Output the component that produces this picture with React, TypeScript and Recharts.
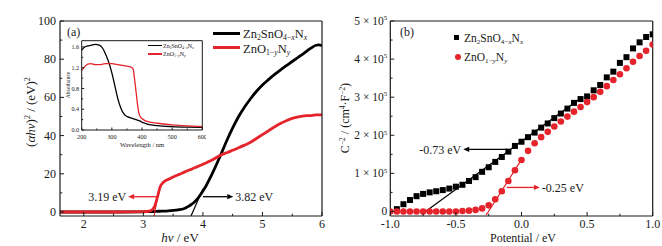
import React from "react";
import {
  ComposedChart,
  LineChart,
  Line,
  Scatter,
  XAxis,
  YAxis,
  ReferenceLine,
} from "recharts";

const INK = "#1a1a1a";
const RED = "#e5232a";
const FONT = "'Liberation Serif', 'Times New Roman', serif";
const AXIS = { stroke: INK, strokeWidth: 1.2 };

// (a) Tauc plot, (αhν)² vs hν
const hvA = [1.6, 2.0, 2.5, 3.0, 3.1, 3.15, 3.19, 3.22, 3.25, 3.28, 3.32, 3.36, 3.45, 3.5, 3.6, 3.7, 3.75, 3.8, 3.85, 3.9, 3.95, 4.0, 4.05, 4.1, 4.2, 4.3, 4.4, 4.5, 4.6, 4.7, 4.8, 4.9, 5.0, 5.1, 5.2, 5.3, 5.4, 5.5, 5.6, 5.7, 5.8, 5.9, 5.95, 6.0];
const tauZts = [0, 0, 0, 0.1, 0.2, 0.2, 0.3, 0.3, 0.4, 0.4, 0.5, 0.5, 0.7, 0.8, 1.2, 2.0, 2.8, 3.8, 5.0, 6.6, 8.6, 11, 13.5, 16.5, 23, 30, 37.3, 44, 50, 55, 59.3, 63.2, 66.5, 69.3, 71.9, 74.3, 76.6, 78.8, 81, 83.2, 85.5, 87.3, 87.5, 87];
const tauZno = [0, 0, 0, 0.2, 0.5, 1.2, 3, 6, 9.5, 13, 15, 16.2, 17.5, 18.3, 19.7, 21, 21.7, 22.3, 23, 23.6, 24.3, 25, 25.7, 26.4, 28, 29.8, 31, 32.3, 33.6, 35, 36.5, 38.5, 40.5, 42.5, 44.5, 46.3, 47.8, 49, 49.8, 50.3, 50.5, 50.8, 50.8, 51];
const hvTicks = [2, 2.5, 3, 3.5, 4, 4.5, 5, 5.5, 6];
const hvMajor = [2, 3, 4, 5, 6];
const tauTicks = [0, 10, 20, 30, 40, 50, 60, 70, 80, 90, 100];
const tauMajor = [0, 20, 40, 60, 80, 100];

// inset: absorbance spectra
const wavelength = [200, 210, 220, 230, 245, 260, 270, 280, 290, 300, 310, 320, 330, 340, 350, 360, 370, 375, 380, 385, 390, 395, 400, 410, 420, 450, 500, 550, 600];
const absZts = [1.54, 1.6, 1.62, 1.63, 1.65, 1.63, 1.57, 1.45, 1.3, 1.1, 0.85, 0.6, 0.42, 0.31, 0.26, 0.24, 0.22, 0.21, 0.2, 0.19, 0.18, 0.17, 0.15, 0.13, 0.11, 0.085, 0.065, 0.055, 0.05];
const absZno = [1.15, 1.22, 1.27, 1.28, 1.26, 1.26, 1.27, 1.28, 1.28, 1.28, 1.27, 1.26, 1.25, 1.24, 1.23, 1.22, 1.18, 1.0, 0.75, 0.5, 0.32, 0.25, 0.22, 0.18, 0.16, 0.13, 0.1, 0.08, 0.065];
const wlTicks = [200, 250, 300, 350, 400, 450, 500, 550, 600];
const wlMajor = [200, 300, 400, 500, 600];
const absTicks = [0, 0.2, 0.4, 0.6, 0.8, 1.0, 1.2, 1.4, 1.6];
const absMajor = [0, 0.4, 0.8, 1.2, 1.6];

// (b) Mott–Schottky, C⁻² in units of 10⁵
const potZts = [-0.95, -0.9, -0.85, -0.8, -0.75, -0.7, -0.65, -0.6, -0.55, -0.5, -0.45, -0.4, -0.35, -0.3, -0.25, -0.2, -0.15, -0.1, -0.05, 0, 0.05, 0.1, 0.15, 0.2, 0.25, 0.3, 0.35, 0.4, 0.45, 0.5, 0.55, 0.6, 0.65, 0.7, 0.75, 0.8, 0.85, 0.9, 0.95, 1.0];
const msZts = [0.06, 0.19, 0.3, 0.4, 0.46, 0.5, 0.53, 0.56, 0.6, 0.65, 0.7, 0.8, 0.9, 1.04, 1.16, 1.3, 1.43, 1.57, 1.72, 1.83, 1.95, 2.07, 2.2, 2.31, 2.45, 2.57, 2.7, 2.85, 2.95, 3.02, 3.18, 3.32, 3.52, 3.67, 3.9, 4.05, 4.28, 4.44, 4.58, 4.65];
const potZno = [-1.0, -0.95, -0.9, -0.85, -0.8, -0.75, -0.7, -0.65, -0.6, -0.55, -0.5, -0.45, -0.4, -0.35, -0.3, -0.25, -0.2, -0.15, -0.1, -0.05, 0, 0.05, 0.1, 0.15, 0.2, 0.25, 0.3, 0.35, 0.4, 0.45, 0.5, 0.55, 0.6, 0.65, 0.7, 0.75, 0.8, 0.85, 0.9, 0.95, 1.0];
const msZno = [0, 0, 0, 0, 0, 0, 0, 0, 0, 0, 0, 0.01, 0.02, 0.04, 0.08, 0.16, 0.32, 0.53, 0.8, 1.08, 1.35, 1.59, 1.79, 1.95, 2.09, 2.23, 2.36, 2.49, 2.62, 2.74, 2.87, 3.0, 3.14, 3.29, 3.45, 3.6, 3.76, 3.93, 4.08, 4.22, 4.38];
const potTicks = [-1, -0.75, -0.5, -0.25, 0, 0.25, 0.5, 0.75, 1];
const potMajor = [-1, -0.5, 0, 0.5, 1];
const msTicks = [0, 0.5, 1, 1.5, 2, 2.5, 3, 3.5, 4, 4.5, 5];
const msMajor = [0, 1, 2, 3, 4, 5];

const tauData = hvA.map((hv, i) => ({ hv, zts: tauZts[i], zno: tauZno[i] }));
const absData = wavelength.map((wl, i) => ({ wl, zts: absZts[i], zno: absZno[i] }));
const ztsPts = potZts.map((x, i) => ({ x, y: msZts[i] }));
const znoPts = potZno.map((x, i) => ({ x, y: msZno[i] }));

type TickCfg = {
  majors: number[];
  len: number;
  minorLen: number;
  size: number;
  gap: number;
  fmt?: (v: number) => React.ReactNode;
};

const isMajor = (v: number, majors: number[]) => majors.some((m) => Math.abs(m - v) < 1e-6);

function bottomTick(c: TickCfg) {
  return (p: any) => {
    const v = p.payload.value;
    const major = isMajor(v, c.majors);
    return (
      <g>
        <line x1={p.x} x2={p.x} y1={p.y} y2={p.y - (major ? c.len : c.minorLen)} stroke={INK} strokeWidth={1} />
        {major && (
          <text x={p.x} y={p.y + c.gap} textAnchor="middle" fontSize={c.size} fontFamily={FONT} fill={INK}>
            {c.fmt ? c.fmt(v) : v}
          </text>
        )}
      </g>
    );
  };
}

function leftTick(c: TickCfg) {
  return (p: any) => {
    const v = p.payload.value;
    const major = isMajor(v, c.majors);
    return (
      <g>
        <line x1={p.x} x2={p.x + (major ? c.len : c.minorLen)} y1={p.y} y2={p.y} stroke={INK} strokeWidth={1} />
        {major && (
          <text x={p.x - c.gap} y={p.y + c.size * 0.33} textAnchor="end" fontSize={c.size} fontFamily={FONT} fill={INK}>
            {c.fmt ? c.fmt(v) : v}
          </text>
        )}
      </g>
    );
  };
}

const arrowShape = (color: string, label: string) => (p: any) => {
  const { x1, y1, x2, y2 } = p;
  const dir = Math.sign(x2 - x1) || 1;
  const head = 6;
  return (
    <g>
      <line x1={x1} y1={y1} x2={x2 - dir * head} y2={y2} stroke={color} strokeWidth={1.3} />
      <polygon points={`${x2},${y2} ${x2 - dir * head},${y2 - 2.6} ${x2 - dir * head},${y2 + 2.6}`} fill={color} />
      <text x={x2 + dir * 2} y={y2 + 4.2} textAnchor={dir > 0 ? "start" : "end"} fontSize={12} fontFamily={FONT} fill={INK}>
        {label}
      </text>
    </g>
  );
};

function PanelA() {
  return (
    <ComposedChart width={330} height={246} data={tauData} margin={{ top: 20, right: 7, bottom: 29, left: 59 }}>
      <XAxis dataKey="hv" type="number" domain={[1.6, 6]} allowDataOverflow ticks={hvTicks} interval={0}
        height={1} tickSize={0} tickMargin={0} tickLine={false} axisLine={AXIS}
        tick={bottomTick({ majors: hvMajor, len: 4, minorLen: 2.3, size: 12, gap: 12 })} />
      <YAxis type="number" domain={[-2.1, 100]} allowDataOverflow ticks={tauTicks} interval={0}
        width={1} tickSize={0} tickMargin={0} tickLine={false} axisLine={AXIS}
        tick={leftTick({ majors: tauMajor, len: 4, minorLen: 2.3, size: 12, gap: 4 })} />
      <XAxis xAxisId="top" orientation="top" type="number" domain={[1.6, 6]} height={1} tick={false} tickLine={false} axisLine={AXIS} />
      <YAxis yAxisId="right" orientation="right" type="number" domain={[-2.1, 100]} width={1} tick={false} tickLine={false} axisLine={AXIS} />
      <Line dataKey="zts" type="monotone" dot={false} stroke="#000" strokeWidth={2.8} isAnimationActive={false} />
      <Line dataKey="zno" type="monotone" dot={false} stroke={RED} strokeWidth={2.8} isAnimationActive={false} />
      <ReferenceLine segment={[{ x: 3.8, y: -2.1 }, { x: 4.0, y: 12 }]} stroke="#000" strokeWidth={1.2} />
      <ReferenceLine segment={[{ x: 3.18, y: -2.1 }, { x: 3.225, y: 5.5 }]} stroke={RED} strokeWidth={1.2} />
      <ReferenceLine segment={[{ x: 3.25, y: 8 }, { x: 2.745, y: 8 }]} shape={arrowShape(RED, "3.19 eV")} />
      <ReferenceLine segment={[{ x: 4.0, y: 8 }, { x: 4.51, y: 8 }]} shape={arrowShape("#000", "3.82 eV")} />
    </ComposedChart>
  );
}

function Inset() {
  const ax = { stroke: INK, strokeWidth: 1 };
  return (
    <LineChart width={144} height={116} data={absData} margin={{ top: 3.7, right: 2.7, bottom: 21, left: 18.7 }}>
      <XAxis dataKey="wl" type="number" domain={[200, 600]} ticks={wlTicks} interval={0}
        height={1} tickSize={0} tickMargin={0} tickLine={false} axisLine={ax}
        tick={bottomTick({ majors: wlMajor, len: 2.5, minorLen: 1.5, size: 6.2, gap: 8.5 })} />
      <YAxis type="number" domain={[0, 1.72]} allowDataOverflow ticks={absTicks} interval={0}
        width={1} tickSize={0} tickMargin={0} tickLine={false} axisLine={ax}
        tick={leftTick({ majors: absMajor, len: 2.5, minorLen: 1.5, size: 6.2, gap: 2.5, fmt: (v) => v.toFixed(1) })} />
      <XAxis xAxisId="top" orientation="top" type="number" domain={[200, 600]} height={1} tick={false} tickLine={false} axisLine={ax} />
      <YAxis yAxisId="right" orientation="right" type="number" domain={[0, 1.72]} width={1} tick={false} tickLine={false} axisLine={ax} />
      <Line dataKey="zts" type="monotone" dot={false} stroke="#000" strokeWidth={1.3} isAnimationActive={false} />
      <Line dataKey="zno" type="monotone" dot={false} stroke={RED} strokeWidth={1.3} isAnimationActive={false} />
    </LineChart>
  );
}

function PanelB() {
  return (
    <ComposedChart width={332} height={246} margin={{ top: 20, right: 8.3, bottom: 29, left: 59.3 }}>
      <XAxis dataKey="x" type="number" domain={[-1, 1]} allowDataOverflow ticks={potTicks} interval={0}
        height={1} tickSize={0} tickMargin={0} tickLine={false} axisLine={AXIS}
        tick={bottomTick({ majors: potMajor, len: 4, minorLen: 2.3, size: 12, gap: 12, fmt: (v) => v.toFixed(1) })} />
      <YAxis dataKey="y" type="number" domain={[-0.12, 5]} allowDataOverflow ticks={msTicks} interval={0}
        width={1} tickSize={0} tickMargin={0} tickLine={false} axisLine={AXIS}
        tick={leftTick({
          majors: msMajor, len: 4, minorLen: 2.3, size: 11.5, gap: 3,
          fmt: (v) => (v === 0 ? "0" : <>{`${v} × 10`}<tspan dy={-4.5} fontSize={7}>5</tspan></>),
        })} />
      <XAxis xAxisId="top" orientation="top" type="number" domain={[-1, 1]} height={1} tick={false} tickLine={false} axisLine={AXIS} />
      <YAxis yAxisId="right" orientation="right" type="number" domain={[-0.12, 5]} width={1} tick={false} tickLine={false} axisLine={AXIS} />
      <Scatter data={ztsPts} fill="#000" isAnimationActive={false}
        shape={(p: any) => <rect x={p.cx - 3} y={p.cy - 3} width={6} height={6} fill="#000" />} />
      <Scatter data={znoPts} fill={RED} isAnimationActive={false}
        shape={(p: any) => <circle cx={p.cx} cy={p.cy} r={3.3} fill={RED} />} />
      <ReferenceLine segment={[{ x: -0.75, y: -0.05 }, { x: 0.45, y: 2.97 }]} stroke="#000" strokeWidth={1.2} />
      <ReferenceLine segment={[{ x: -0.27, y: -0.1 }, { x: 0.0, y: 1.36 }]} stroke={RED} strokeWidth={1.2} />
      <ReferenceLine segment={[{ x: -0.11, y: 1.63 }, { x: -0.444, y: 1.63 }]} shape={arrowShape("#000", "-0.73 eV")} />
      <ReferenceLine segment={[{ x: -0.113, y: 0.63 }, { x: 0.14, y: 0.63 }]} shape={arrowShape(RED, "-0.25 eV")} />
    </ComposedChart>
  );
}

const Sub = ({ children }: { children: React.ReactNode }) => (
  <sub style={{ fontSize: "0.62em", verticalAlign: "-0.3em", lineHeight: 0 }}>{children}</sub>
);
const Sup = ({ children }: { children: React.ReactNode }) => (
  <sup style={{ fontSize: "0.62em", verticalAlign: "0.5em", lineHeight: 0 }}>{children}</sup>
);

const Zts = () => (
  <span>Zn<Sub>2</Sub>SnO<Sub>4−<i>x</i></Sub>N<Sub><i>x</i></Sub></span>
);
const Zno = () => (
  <span>ZnO<Sub>1−<i>y</i></Sub>N<Sub><i>y</i></Sub></span>
);

const At = ({ x, y, size, children, rotate, center }: { x: number; y: number; size: number; children: React.ReactNode; rotate?: boolean; center?: boolean }) => (
  <div
    style={{
      position: "absolute",
      left: x,
      top: y,
      fontSize: size,
      lineHeight: 1,
      whiteSpace: "nowrap",
      fontFamily: FONT,
      color: INK,
      transform: rotate
        ? "translate(-50%, -50%) rotate(-90deg)"
        : center
        ? "translate(-50%, -50%)"
        : "translateY(-50%)",
    }}
  >
    {children}
  </div>
);

const Swatch = ({ x, y, w, h, color, round }: { x: number; y: number; w: number; h: number; color: string; round?: boolean }) => (
  <div style={{ position: "absolute", left: x - w / 2, top: y - h / 2, width: w, height: h, background: color, borderRadius: round ? "50%" : 0 }} />
);

export default function App() {
  return (
    <div style={{ position: "absolute", left: 0, top: 0, width: 662, height: 246, background: "#fff", overflow: "hidden" }}>
      <div style={{ position: "absolute", left: 0, top: 0 }}><PanelA /></div>
      <div style={{ position: "absolute", left: 62, top: 36 }}><Inset /></div>
      <div style={{ position: "absolute", left: 330, top: 0 }}><PanelB /></div>

      {/* panel (a) texts */}
      <At x={67} y={32} size={12}>(a)</At>
      <At x={30} y={112} size={13} rotate>(<i>αhν</i>)<Sup>2</Sup> / (eV)<Sup>2</Sup></At>
      <At x={180} y={237} size={13} center><i>hν</i> / eV</At>
      <Swatch x={226.5} y={33.3} w={27} h={3.2} color="#000" />
      <At x={243} y={34} size={12.5}><Zts /></At>
      <Swatch x={226.5} y={47.7} w={27} h={3.2} color={RED} />
      <At x={243} y={48.5} size={12.5}><Zno /></At>

      {/* inset texts */}
      <At x={68.5} y={85} size={5.6} rotate>Absorbance</At>
      <At x={142} y={145} size={6.5} center>Wavelength / nm</At>
      <Swatch x={155} y={45.7} w={13.5} h={1.3} color="#000" />
      <At x={163} y={46} size={6}><Zts /></At>
      <Swatch x={155} y={54} w={13.5} h={1.3} color={RED} />
      <At x={163} y={54.3} size={6}><Zno /></At>

      {/* panel (b) texts */}
      <At x={400} y={31.7} size={12}>(b)</At>
      <At x={345} y={118} size={12} rotate>C<Sup>−2</Sup> / (cm<Sup>4</Sup>·F<Sup>−2</Sup>)</At>
      <At x={523} y={238} size={12} center>Potential / eV</At>
      <Swatch x={456.7} y={37.7} w={5} h={5} color="#000" />
      <At x={464} y={38.5} size={11.5}><Zts /></At>
      <Swatch x={457.7} y={57.3} w={6} h={6} color={RED} round />
      <At x={464} y={58} size={11.5}><Zno /></At>
    </div>
  );
}
